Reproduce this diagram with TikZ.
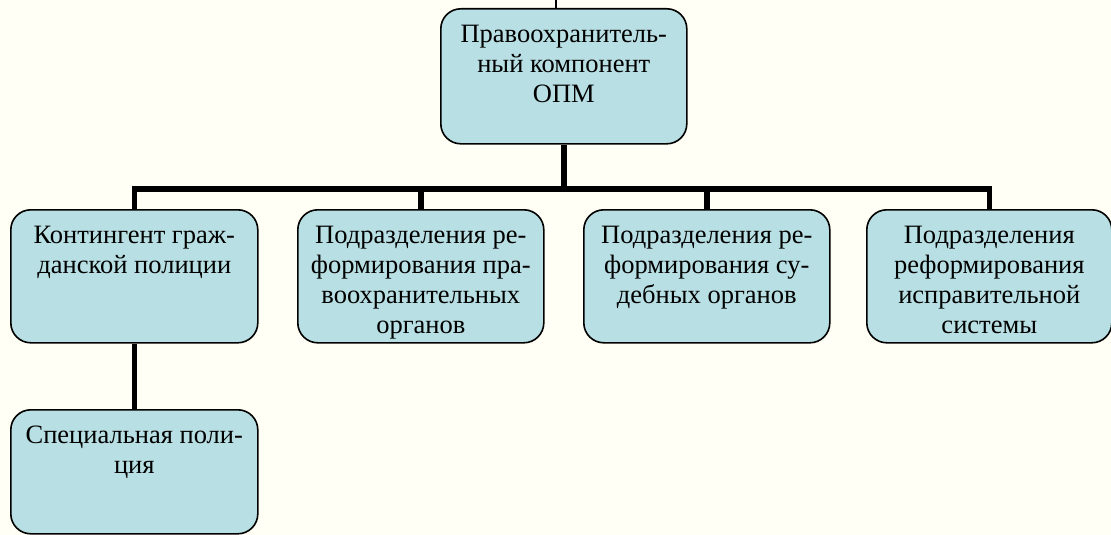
\documentclass[tikz,border=0pt]{standalone}
\usepackage{fontspec}
\setmainfont{Liberation Serif}
\definecolor{bgc}{RGB}{255,255,245}
\definecolor{boxc}{RGB}{184,223,227}
\newcommand{\boxtext}[3]{\parbox[c][#2pt][t]{#1pt}{\centering\rule{0pt}{34pt}#3\par}}
\tikzset{
  x=1pt, y=-1pt,
  orgbox/.style={draw=black, fill=boxc, line width=1.6pt, rounded corners=20pt,
    inner sep=0pt, anchor=north west, font=\fontsize{26.5}{30}\selectfont},
  conn/.style={draw=black, line width=5.5pt},
  thinline/.style={draw=black, line width=1.6pt}
}
\begin{document}
\begin{tikzpicture}
\fill[bgc] (0,0) rectangle (1111,535);
\useasboundingbox (0,0) rectangle (1111,535);
\coordinate (tl1) at (556,0);
\coordinate (tl2) at (556,8);
\draw[thinline] (tl1) -- (tl2);
\node[orgbox] (top) at (440,8) {\boxtext{246}{135}{Правоохранитель-\\ный компонент\\ОПМ}};
\node[orgbox] (b1) at (10,209) {\boxtext{247}{133}{Контингент граж-\\данской полиции}};
\node[orgbox] (b2) at (297,209) {\boxtext{246}{133}{Подразделения ре-\\формирования пра-\\воохранительных\\органов}};
\node[orgbox] (b3) at (583,209) {\boxtext{246}{133}{Подразделения ре-\\формирования су-\\дебных органов}};
\node[orgbox] (b4) at (866,209) {\boxtext{245}{133}{Подразделения\\реформирования\\исправительной\\системы}};
\node[orgbox] (b5) at (10,409) {\boxtext{247}{124}{Специальная поли-\\ция}};
\coordinate (bus) at (0,189);
\draw[conn] (b1.north) -- (b1.north |- bus) -- (b4.north |- bus) -- (b4.north);
\draw[conn] (top.south) -- (top.south |- bus);
\draw[conn] (b2.north) -- (b2.north |- bus);
\draw[conn] (b3.north) -- (b3.north |- bus);
\draw[conn] (b1.south) -- (b5.north);
\end{tikzpicture}
\end{document}
